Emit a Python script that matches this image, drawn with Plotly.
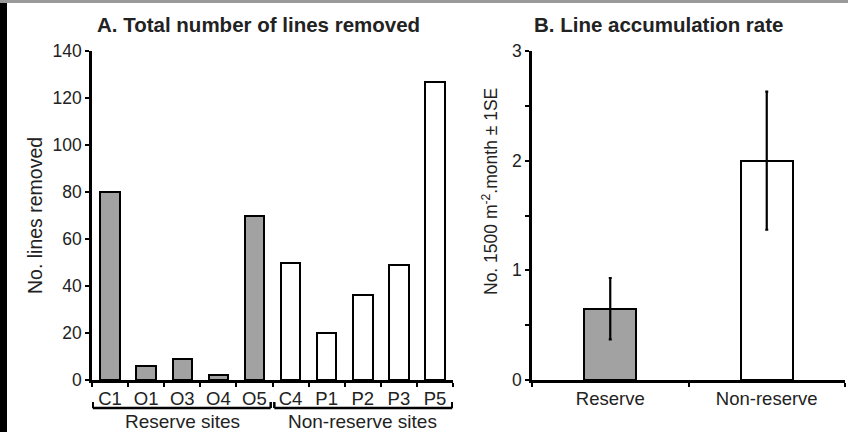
import plotly.graph_objects as go

# ---- data ----
sites = ["C1", "O1", "O3", "O4", "O5", "C4", "P1", "P2", "P3", "P5"]
lines_removed = [80, 6, 9, 2, 70, 50, 20, 36, 49, 127]
site_group = ["Reserve"] * 5 + ["Non-reserve"] * 5

rate_groups = ["Reserve", "Non-reserve"]
rate_mean = [0.65, 2.0]
rate_se = [0.28, 0.63]

y_ticks_a = [0, 20, 40, 60, 80, 100, 120, 140]
y_ticks_b = [0, 1, 2, 3]

W, H = 848, 432
GRAY = "#a2a2a2"
FONT = "Liberation Sans, Arial, sans-serif"
TXT = "#222222"

def px(x):
    return x / W

def py(y):
    return 1 - y / H

colors_a = [GRAY if g == "Reserve" else "white" for g in site_group]
colors_b = [GRAY if g == "Reserve" else "white" for g in rate_groups]

fig = go.Figure()
fig.add_trace(go.Bar(
    x=sites, y=lines_removed, width=0.54,
    marker=dict(color=colors_a, line=dict(color="black", width=2)),
    xaxis="x", yaxis="y", showlegend=False,
))
fig.add_trace(go.Bar(
    x=rate_groups, y=rate_mean, width=0.33,
    marker=dict(color=colors_b, line=dict(color="black", width=2)),
    error_y=dict(type="data", array=rate_se, visible=True, color="black",
                 thickness=2.2, width=1.5),
    xaxis="x2", yaxis="y2", showlegend=False,
))

axis_common = dict(showline=True, linecolor="black", linewidth=2.5,
                   ticks="outside", ticklen=4, tickwidth=2, tickcolor="black",
                   showgrid=False, zeroline=False, automargin=False,
                   tickfont=dict(family=FONT, size=17.5, color=TXT))
xfont = dict(family=FONT, size=18.5, color=TXT)

fig.update_layout(
    width=W, height=H,
    margin=dict(l=0, r=0, t=0, b=0),
    paper_bgcolor="white", plot_bgcolor="white",
    bargap=0,
    xaxis=dict(domain=[px(92), px(453)], anchor="y", type="category",
               tickson="boundaries", range=[-0.5, 9.5],
               **{**axis_common, "tickfont": xfont}),
    yaxis=dict(domain=[py(380), py(51)], anchor="x", range=[0, 140],
               tickvals=y_ticks_a, **axis_common),
    xaxis2=dict(domain=[px(532), px(845)], anchor="y2", type="category",
                tickson="boundaries", range=[-0.5, 1.5],
                **{**axis_common, "tickfont": xfont}),
    yaxis2=dict(domain=[py(380), py(51)], anchor="x2", range=[0, 3],
                tickvals=y_ticks_b,
                minor=dict(ticks="outside", dtick=0.5, ticklen=4, tickwidth=2,
                           tickcolor="black", showgrid=False),
                **axis_common),
)

annotations = [
    dict(text="<b>A. Total number of lines removed</b>", x=px(258), y=py(25),
         font=dict(size=20.5, family=FONT, color=TXT)),
    dict(text="<b>B. Line accumulation rate</b>", x=px(658), y=py(25),
         font=dict(size=20.5, family=FONT, color=TXT)),
    dict(text="No. lines removed", x=px(35), y=py(216), textangle=-90,
         font=dict(size=19.5, family=FONT, color=TXT)),
    dict(text="No. 1500 m<sup>-2</sup>.month ± 1SE", x=px(490), y=py(192), textangle=-90,
         font=dict(size=17.5, family=FONT, color=TXT)),
    dict(text="Reserve sites", x=2, xref="x", y=py(421), yref="paper",
         font=dict(size=19, family=FONT, color=TXT)),
    dict(text="Non-reserve sites", x=7, xref="x", y=py(421), yref="paper",
         font=dict(size=19, family=FONT, color=TXT)),
]
for a in annotations:
    a.setdefault("xref", "paper")
    a.setdefault("yref", "paper")
    a.update(showarrow=False, xanchor="center", yanchor="middle")
fig.update_layout(annotations=annotations)

shapes = []
# brackets under the site groups
for (a0, a1) in [(-0.48, 4.45), (4.55, 9.48)]:
    yb, yt = py(408), py(402)
    line = dict(color="black", width=2.5)
    shapes.append(dict(type="line", xref="x", yref="paper", x0=a0, x1=a1, y0=yb, y1=yb, line=line))
    shapes.append(dict(type="line", xref="x", yref="paper", x0=a0, x1=a0, y0=yb, y1=yt, line=line))
    shapes.append(dict(type="line", xref="x", yref="paper", x0=a1, x1=a1, y0=yb, y1=yt, line=line))
# scan border
shapes.append(dict(type="rect", xref="paper", yref="paper", x0=0, x1=px(7), y0=0, y1=1,
                   fillcolor="black", line=dict(width=0), layer="above"))
shapes.append(dict(type="rect", xref="paper", yref="paper", x0=0, x1=1, y0=py(3), y1=1,
                   fillcolor="#9a9a9a", line=dict(width=0), layer="above"))
fig.update_layout(shapes=shapes)

fig.write_html(
    "out.html",
    config={"displayModeBar": False},
    post_script="document.body.style.margin='0';document.body.style.overflow='hidden';",
)
